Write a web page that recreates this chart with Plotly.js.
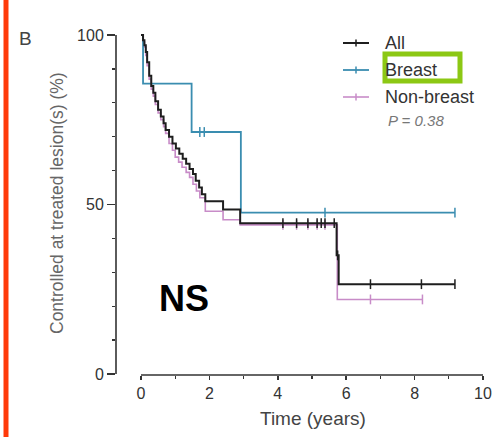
<!DOCTYPE html>
<html>
<head>
<meta charset="utf-8">
<script src="https://cdn.plot.ly/plotly-3.0.1.min.js"></script>
<style>html,body{margin:0;padding:0;background:#fff;}#chart{width:495px;height:439px;}</style>
</head>
<body>
<div id="chart"></div>
<script>
// ---- data ----
const seriesNames = ["All", "Breast", "Non-breast"];

const allTimes = [0, 0.06, 0.10, 0.14, 0.18, 0.24, 0.30, 0.36, 0.42, 0.50, 0.58, 0.66, 0.72, 0.82, 0.92, 1.02, 1.12, 1.22, 1.32, 1.42, 1.52, 1.60, 1.70, 1.78, 1.88, 2.40, 2.90, 5.72, 5.78, 9.18];
const allSurv  = [100, 98.5, 97, 95, 92, 88, 85, 83, 80.5, 78, 76, 74, 72, 70, 68, 66.5, 65, 63.5, 62, 60.5, 59, 57, 55, 53, 51, 48.5, 44.5, 35, 26.5, 26.5];
const allCensor = [4.15, 4.55, 4.88, 5.15, 5.27, 5.38, 5.65, 5.75, 6.71, 8.2, 9.18];

const breastTimes = [0, 0.06, 1.48, 2.92, 9.18];
const breastSurv  = [100, 85.7, 71.4, 47.6, 47.6];
const breastCensor = [1.72, 1.85, 5.38, 9.18];

const nonTimes = [0, 0.06, 0.10, 0.14, 0.18, 0.24, 0.30, 0.36, 0.42, 0.50, 0.58, 0.66, 0.72, 0.82, 0.92, 1.00, 1.10, 1.20, 1.32, 1.42, 1.52, 1.62, 1.72, 1.88, 2.40, 2.90, 5.74, 8.23];
const nonSurv  = [100, 98, 96.5, 94, 91, 87, 84, 82, 79.5, 77, 75, 73, 71, 68, 66, 64, 62.5, 61, 59.5, 58, 56, 54, 52, 48, 45.5, 44, 22, 22];
const nonCensor = [4.15, 4.55, 4.88, 5.15, 5.38, 6.71, 8.23];

const pValueText = "P = 0.38";
const xTickVals = [0, 2, 4, 6, 8, 10];
const yTickVals = [0, 50, 100];

// ---- helpers ----
function survAt(times, surv, t) {
  let v = surv[0];
  for (let i = 0; i < times.length; i++) { if (times[i] <= t) v = surv[i]; }
  return v;
}
const colors = { "All": "#1e1e1e", "Breast": "#3a8db0", "Non-breast": "#c88cc8" };
const widths = { "All": 2, "Breast": 1.8, "Non-breast": 1.6 };

function curve(name, times, surv) {
  return { x: times, y: surv, type: "scatter", mode: "lines", line: { shape: "hv", color: colors[name], width: widths[name] }, hoverinfo: "skip", showlegend: false };
}
function censor(name, times, surv, cts) {
  return { x: cts, y: cts.map(t => survAt(times, surv, t)), type: "scatter", mode: "markers", cliponaxis: false,
    marker: { symbol: "line-ns-open", size: 7, color: colors[name], line: { color: colors[name], width: 1.5 } }, hoverinfo: "skip", showlegend: false };
}

const data = [
  curve("Non-breast", nonTimes, nonSurv),
  censor("Non-breast", nonTimes, nonSurv, nonCensor),
  curve("Breast", breastTimes, breastSurv),
  censor("Breast", breastTimes, breastSurv, breastCensor),
  curve("All", allTimes, allSurv),
  censor("All", allTimes, allSurv, allCensor)
];

// pixel -> paper conversions (plot area: x 116..485, y 30..375)
const L = 116, R = 10, T = 30, B = 64, W = 495, H = 439;
const pw = W - L - R, ph = H - T - B;
const px = x => (x - L) / pw;
const py = y => (H - B - y) / ph;

const shapes = [
  // offset axis lines
  { type: "line", xref: "paper", yref: "y", x0: 0, x1: 0, y0: 0, y1: 100, line: { color: "#333", width: 1.6 } },
  { type: "line", xref: "x", yref: "paper", x0: 0, x1: 10, y0: 0, y1: 0, line: { color: "#333", width: 1.6 } },
  // red bar at left
  { type: "line", xref: "paper", yref: "paper", x0: px(6), x1: px(6), y0: py(-5), y1: py(437), line: { color: "#ff3a0a", width: 5 } },
  // green box around "Breast"
  { type: "rect", xref: "paper", yref: "paper", x0: px(385), x1: px(460), y0: py(54), y1: py(81), line: { color: "#8cc814", width: 5 } }
];

const annotations = [];
const legendYs = [43, 70, 97];
seriesNames.forEach((n, i) => {
  const y = legendYs[i];
  shapes.push({ type: "line", xref: "paper", yref: "paper", x0: px(343), x1: px(369), y0: py(y), y1: py(y), line: { color: colors[n], width: widths[n] } });
  shapes.push({ type: "line", xref: "paper", yref: "paper", x0: px(356), x1: px(356), y0: py(y - 3.5), y1: py(y + 3.5), line: { color: colors[n], width: 1.5 } });
  annotations.push({ xref: "paper", yref: "paper", x: px(383), y: py(y), xanchor: "left", yanchor: "middle", showarrow: false,
    text: n, font: { family: "Liberation Sans, Arial, sans-serif", size: 18, color: "#333" } });
});
annotations.push({ xref: "paper", yref: "paper", x: px(386), y: py(120), xanchor: "left", yanchor: "middle", showarrow: false,
  text: "<i>" + pValueText + "</i>", font: { family: "Liberation Sans, Arial, sans-serif", size: 15, color: "#777" } });
annotations.push({ xref: "paper", yref: "paper", x: px(25.5), y: py(38.5), xanchor: "center", yanchor: "middle", showarrow: false,
  text: "B", font: { family: "Liberation Sans, Arial, sans-serif", size: 19, color: "#444" } });
annotations.push({ xref: "paper", yref: "paper", x: px(183.5), y: py(298), xanchor: "center", yanchor: "middle", showarrow: false,
  text: "<b>NS</b>", font: { family: "Liberation Sans, Arial, sans-serif", size: 36, color: "#000" } });
annotations.push({ xref: "paper", yref: "paper", x: px(57), y: py(203), xanchor: "center", yanchor: "middle", showarrow: false, textangle: -90,
  text: "Controlled at treated lesion(s) (%)", font: { family: "Liberation Sans, Arial, sans-serif", size: 17.5, color: "#666" } });
annotations.push({ xref: "paper", yref: "paper", x: px(313), y: py(418), xanchor: "center", yanchor: "middle", showarrow: false,
  text: "Time (years)", font: { family: "Liberation Sans, Arial, sans-serif", size: 19, color: "#444" } });

const layout = {
  width: W, height: H,
  margin: { l: L, r: R, t: T, b: B, pad: 0 },
  paper_bgcolor: "#fff", plot_bgcolor: "#fff",
  showlegend: false,
  xaxis: {
    range: [-0.731, 10.059], showgrid: false, zeroline: false, showline: false,
    tickmode: "array", tickvals: xTickVals, ticktext: xTickVals.map(String),
    ticks: "outside", ticklen: 4, tickwidth: 1.5, tickcolor: "#333",
    minor: { tickmode: "linear", dtick: 1, ticks: "outside", ticklen: 3, tickwidth: 1.2, tickcolor: "#333", showgrid: false },
    tickfont: { family: "Liberation Sans, Arial, sans-serif", size: 16, color: "#333" }
  },
  yaxis: {
    range: [-0.3, 101.5], showgrid: false, zeroline: false, showline: false,
    tickmode: "array", tickvals: yTickVals, ticktext: yTickVals.map(String),
    ticks: "outside", ticklen: 8, tickwidth: 1.5, tickcolor: "#333",
    minor: { tickmode: "linear", dtick: 10, ticks: "outside", ticklen: 3, tickwidth: 1.2, tickcolor: "#333", showgrid: false },
    tickfont: { family: "Liberation Sans, Arial, sans-serif", size: 16, color: "#333" }
  },
  shapes: shapes,
  annotations: annotations
};

Plotly.newPlot("chart", data, layout, { displayModeBar: false, staticPlot: true });
</script>
</body>
</html>
